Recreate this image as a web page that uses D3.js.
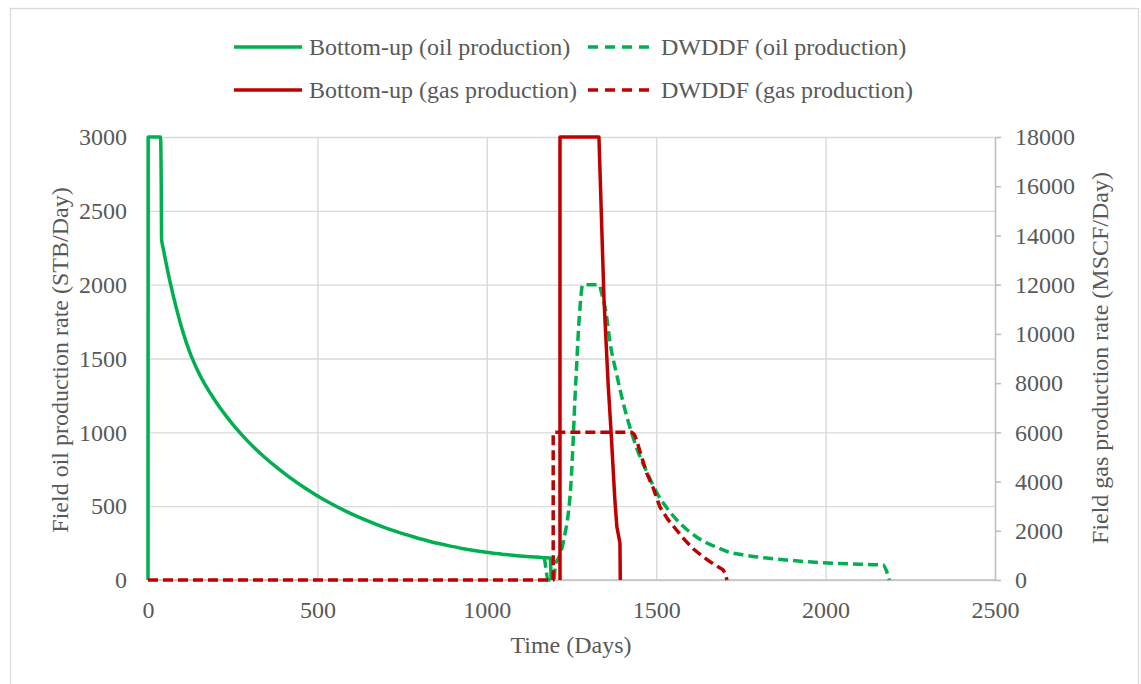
<!DOCTYPE html>
<html>
<head>
<meta charset="utf-8">
<script src="https://cdn.jsdelivr.net/npm/d3@7"></script>
<style>
  html, body { margin: 0; padding: 0; background: #fff; }
  svg { display: block; }
  text { font-family: "Liberation Serif", "Times New Roman", serif; fill: #595959; }
</style>
</head>
<body>
<svg id="chart" width="1141" height="684"></svg>
<script>
// Time axis (days) and tick labels
const dayTicks = [0, 500, 1000, 1500, 2000, 2500];
const oilTicks = [0, 500, 1000, 1500, 2000, 2500, 3000];
const gasTicks = [0, 2000, 4000, 6000, 8000, 10000, 12000, 14000, 16000, 18000];

// Bottom-up model, field oil rate (STB/Day)
const buOilDays = [0, 0.5, 37, 39, 40, 45, 50, 57, 65, 75, 85, 95, 105, 117, 129, 145, 163, 185, 212, 240, 277, 310, 340, 380, 419, 460, 498, 537, 585, 636, 685, 734, 785, 832, 880, 931, 998, 1045, 1088, 1130, 1167, 1187, 1190];
const buOilRate = [0, 3000, 3000, 2700, 2310, 2245, 2185, 2105, 2020, 1921, 1829, 1744, 1666, 1582, 1509, 1426, 1345, 1261, 1168, 1083, 983, 904, 840, 762, 693, 628, 573, 522, 465, 412, 367, 327, 291, 261, 236, 212, 188, 175, 164, 157, 151, 149, 0];

// DWDDF model, field oil rate (STB/Day)
const dwOilDays = [1170, 1175, 1180, 1198, 1203, 1212, 1223, 1231, 1240, 1248, 1255, 1260, 1265, 1270, 1277, 1281, 1285, 1331, 1339, 1352, 1364, 1384, 1402, 1423, 1443, 1473, 1502, 1541, 1591, 1620, 1650, 1680, 1709, 1756, 1820, 1886, 1950, 2022, 2100, 2169, 2188];
const dwOilRate = [150, 70, 0, 0, 110, 150, 226, 316, 440, 640, 950, 1219, 1442, 1673, 1896, 1984, 2000, 2000, 1942, 1808, 1605, 1385, 1205, 1030, 890, 728, 590, 460, 340, 290, 251, 220, 193, 170, 150, 135, 123, 113, 107, 102, 0];

// Bottom-up model, field gas rate (MSCF/Day)
const buGasDays = [1216, 1216, 1331, 1346, 1358, 1367, 1378, 1384, 1393, 1394];
const buGasRate = [0, 18000, 18000, 11377, 8005, 5973, 3250, 2153, 1503, 0];

// DWDDF model, field gas rate (MSCF/Day)
const dwGasDays = [0, 1196, 1196, 1428, 1436, 1442, 1457, 1472, 1490, 1511, 1535, 1560, 1585, 1609, 1635, 1659, 1680, 1697, 1703, 1709];
const dwGasRate = [0, 0, 6000, 6000, 5900, 5688, 5000, 4348, 3779, 2966, 2450, 2032, 1620, 1270, 980, 740, 560, 420, 284, 0];

const legendItems = [
  { label: "Bottom-up (oil production)", color: "#00B050", dashed: false },
  { label: "DWDDF (oil production)", color: "#00B050", dashed: true },
  { label: "Bottom-up (gas production)", color: "#C00000", dashed: false },
  { label: "DWDDF (gas production)", color: "#C00000", dashed: true }
];

const svg = d3.select("#chart");
const plot = { left: 148, right: 995, top: 137, bottom: 580 };

const x = d3.scaleLinear().domain([0, 2500]).range([plot.left, plot.right]);
const yOil = d3.scaleLinear().domain([0, 3000]).range([plot.bottom, plot.top]);
const yGas = d3.scaleLinear().domain([0, 18000]).range([plot.bottom, plot.top]);

// outer frame
svg.append("rect")
  .attr("x", 10.5).attr("y", 8.5)
  .attr("width", 1128).attr("height", 690)
  .attr("fill", "none").attr("stroke", "#d9d9d9").attr("stroke-width", 1.3);

// horizontal gridlines from the oil axis
const gridH = svg.append("g")
  .attr("transform", `translate(${plot.left},0)`)
  .call(d3.axisLeft(yOil).tickValues(oilTicks).tickSize(-(plot.right - plot.left)).tickFormat(""));
gridH.select(".domain").remove();
gridH.selectAll(".tick line").attr("stroke", "#d9d9d9").attr("stroke-width", 1.4);

// vertical gridlines from the time axis
const gridV = svg.append("g")
  .attr("transform", `translate(0,${plot.bottom})`)
  .call(d3.axisBottom(x).tickValues(dayTicks.slice(0, -1)).tickSize(-(plot.bottom - plot.top)).tickFormat(""));
gridV.select(".domain").remove();
gridV.selectAll(".tick line").attr("stroke", "#d9d9d9").attr("stroke-width", 1.4);

// bottom axis line
svg.append("line")
  .attr("x1", plot.left).attr("x2", plot.right)
  .attr("y1", plot.bottom).attr("y2", plot.bottom)
  .attr("stroke", "#bfbfbf").attr("stroke-width", 1.6);

// bottom tick labels
const xAxis = svg.append("g")
  .attr("transform", `translate(0,${plot.bottom})`)
  .call(d3.axisBottom(x).tickValues(dayTicks).tickSize(0).tickPadding(21).tickFormat(d3.format("d")));
xAxis.select(".domain").remove();
xAxis.selectAll("text").attr("font-size", 24).attr("fill", "#595959")
  .style("font-family", '"Liberation Serif", serif');

// left tick labels
const yAxisL = svg.append("g")
  .attr("transform", `translate(${plot.left},0)`)
  .call(d3.axisLeft(yOil).tickValues(oilTicks).tickSize(0).tickPadding(21).tickFormat(d3.format("d")));
yAxisL.select(".domain").remove();
yAxisL.selectAll("text").attr("font-size", 24).attr("fill", "#595959")
  .style("font-family", '"Liberation Serif", serif');

// right axis with outward ticks
const yAxisR = svg.append("g")
  .attr("transform", `translate(${plot.right},0)`)
  .call(d3.axisRight(yGas).tickValues(gasTicks).tickSize(6).tickSizeOuter(0).tickPadding(14).tickFormat(d3.format("d")));
yAxisR.select(".domain").attr("stroke", "#bfbfbf").attr("stroke-width", 1.6);
yAxisR.selectAll(".tick line").attr("stroke", "#bfbfbf").attr("stroke-width", 1.6);
yAxisR.selectAll("text").attr("font-size", 24).attr("fill", "#595959")
  .style("font-family", '"Liberation Serif", serif');

// axis titles
svg.append("text")
  .attr("x", 571).attr("y", 653)
  .attr("text-anchor", "middle").attr("font-size", 24)
  .text("Time (Days)");

svg.append("text")
  .attr("transform", "translate(68,360) rotate(-90)")
  .attr("text-anchor", "middle").attr("font-size", 24)
  .text("Field oil production rate (STB/Day)");

svg.append("text")
  .attr("transform", "translate(1108,358) rotate(-90)")
  .attr("text-anchor", "middle").attr("font-size", 24)
  .text("Field gas production rate (MSCF/Day)");

// series: oil rates are smooth decline curves, gas rates are piecewise
const zipData = (days, vals) => days.map((d, i) => [d, vals[i]]);
const oilLine = d3.line().x(d => x(d[0])).y(d => yOil(d[1])).curve(d3.curveMonotoneX);
const gasLine = d3.line().x(d => x(d[0])).y(d => yGas(d[1]));

const series = [
  { data: zipData(buOilDays, buOilRate), gen: oilLine, style: legendItems[0] },
  { data: zipData(dwOilDays, dwOilRate), gen: oilLine, style: legendItems[1] },
  { data: zipData(buGasDays, buGasRate), gen: gasLine, style: legendItems[2] },
  { data: zipData(dwGasDays, dwGasRate), gen: gasLine, style: legendItems[3] }
];

series.forEach(s => {
  svg.append("path")
    .attr("d", s.gen(s.data))
    .attr("fill", "none")
    .attr("stroke", s.style.color)
    .attr("stroke-width", 3.5)
    .attr("stroke-linejoin", "round")
    .attr("stroke-dasharray", s.style.dashed ? "10,5" : null);
});

// legend, two rows of two entries
const legendPos = [
  { lx: 234, tx: 309, y: 47 },
  { lx: 588, tx: 661, y: 47 },
  { lx: 234, tx: 309, y: 90 },
  { lx: 588, tx: 661, y: 90 }
];
legendItems.forEach((item, i) => {
  const p = legendPos[i];
  const len = item.dashed ? 63 : 68;
  svg.append("line")
    .attr("x1", p.lx).attr("x2", p.lx + len)
    .attr("y1", p.y).attr("y2", p.y)
    .attr("stroke", item.color).attr("stroke-width", 3.5)
    .attr("stroke-dasharray", item.dashed ? "10,7" : null);
  svg.append("text")
    .attr("x", p.tx).attr("y", p.y + 8)
    .attr("font-size", 24)
    .text(item.label);
});
</script>
</body>
</html>
